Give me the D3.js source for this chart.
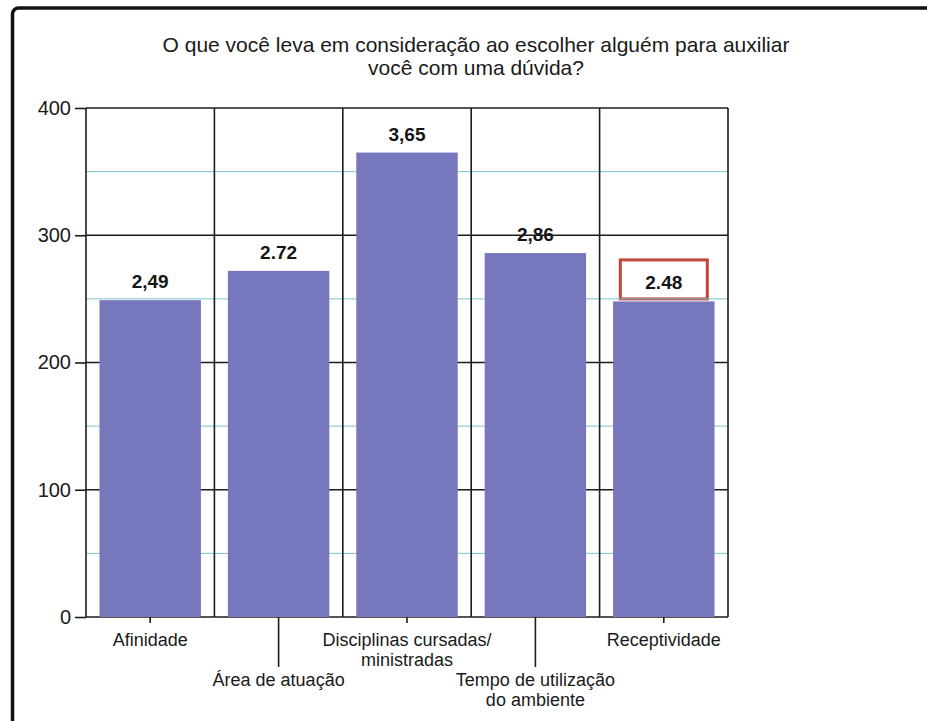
<!DOCTYPE html>
<html>
<head>
<meta charset="utf-8">
<script src="https://cdn.jsdelivr.net/npm/d3@7"></script>
<style>
  html, body { margin: 0; padding: 0; background: #ffffff; }
  svg { display: block; font-family: Arial, "Liberation Sans", Helvetica, sans-serif; }
</style>
</head>
<body>
<svg id="chart" width="927" height="721"></svg>
<script>
// Survey answers: average score per criterion (shown on a 0–400 axis, i.e. score × 100)
const categories = ["Afinidade", "Área de atuação", "Disciplinas cursadas/ministradas", "Tempo de utilização do ambiente", "Receptividade"];
const categoryLines = [["Afinidade"], ["Área de atuação"], ["Disciplinas cursadas/", "ministradas"], ["Tempo de utilização", "do ambiente"], ["Receptividade"]];
const scores = [2.49, 2.72, 3.65, 2.86, 2.48];
const scoreLabels = ["2,49", "2.72", "3,65", "2,86", "2.48"];
const highlighted = ["Receptividade"];
const yTicks = [0, 100, 200, 300, 400];
const yMinor = [50, 150, 250, 350];
const titleLines = ["O que você leva em consideração ao escolher alguém para auxiliar", "você com uma dúvida?"];

const svg = d3.select("#chart");
const W = 927, H = 721;
const plot = { left: 86, right: 728, top: 108, bottom: 617 };

const x = d3.scaleBand()
  .domain(categories)
  .range([plot.left, plot.right])
  .paddingInner(0.21)
  .paddingOuter(0.105);
const step = x.step();
const y = d3.scaleLinear().domain([0, 400]).range([plot.bottom, plot.top]);

// frame around the figure
svg.append("rect")
  .attr("x", 12.5).attr("y", 8)
  .attr("width", W + 20).attr("height", H + 20)
  .attr("rx", 6)
  .attr("fill", "#ffffff")
  .attr("stroke", "#111111")
  .attr("stroke-width", 3.5);

// title
svg.append("g").selectAll("text")
  .data(titleLines)
  .join("text")
  .attr("x", 476)
  .attr("y", (d, i) => 52 + i * 23)
  .attr("text-anchor", "middle")
  .attr("font-size", 21)
  .attr("fill", "#1a1a1a")
  .text(d => d);

const cats = categories.map((c, i) => ({ c, i, v: scores[i], label: scoreLabels[i], lines: categoryLines[i] }));

// value labels (grid lines are drawn over them)
const labelG = svg.append("g");
labelG.selectAll("rect.hl")
  .data(cats.filter(d => highlighted.includes(d.c)))
  .join("rect")
  .attr("class", "hl")
  .attr("x", d => x(d.c) + x.bandwidth() / 2 - 43.5)
  .attr("y", d => y(d.v * 100) - 41.5)
  .attr("width", 87)
  .attr("height", 39)
  .attr("fill", "#ffffff")
  .attr("stroke", "#c0453e")
  .attr("stroke-width", 3);
labelG.selectAll("text")
  .data(cats)
  .join("text")
  .attr("x", d => x(d.c) + x.bandwidth() / 2)
  .attr("y", d => y(d.v * 100) - 12)
  .attr("text-anchor", "middle")
  .attr("font-size", 19)
  .attr("font-weight", "bold")
  .attr("fill", "#151515")
  .text(d => d.label);

// minor horizontal grid lines
svg.append("g").selectAll("line")
  .data(yMinor)
  .join("line")
  .attr("x1", plot.left).attr("x2", plot.right)
  .attr("y1", d => y(d)).attr("y2", d => y(d))
  .attr("stroke", "#7fc1cc")
  .attr("stroke-width", 1);

// major horizontal grid lines
svg.append("g").selectAll("line")
  .data(yTicks)
  .join("line")
  .attr("x1", plot.left).attr("x2", plot.right)
  .attr("y1", d => y(d)).attr("y2", d => y(d))
  .attr("stroke", "#1c1c1c")
  .attr("stroke-width", 1.6);

// vertical cell borders
const borders = d3.range(categories.length + 1).map(i => plot.left + i * step);
svg.append("g").selectAll("line")
  .data(borders)
  .join("line")
  .attr("x1", d => d).attr("x2", d => d)
  .attr("y1", plot.top).attr("y2", plot.bottom)
  .attr("stroke", "#1c1c1c")
  .attr("stroke-width", 1.6);

// bars
svg.append("g").selectAll("rect")
  .data(cats)
  .join("rect")
  .attr("x", d => x(d.c))
  .attr("width", x.bandwidth())
  .attr("y", d => y(d.v * 100))
  .attr("height", d => y(0) - y(d.v * 100))
  .attr("fill", "#7677bd");

// y axis
const yAxis = svg.append("g")
  .attr("transform", `translate(${plot.left},0)`)
  .call(d3.axisLeft(y).tickValues(yTicks).tickSize(11).tickPadding(4).tickFormat(d3.format("d")));
yAxis.select(".domain").remove();
yAxis.selectAll(".tick line").attr("stroke", "#1c1c1c").attr("stroke-width", 1.6);
yAxis.selectAll(".tick text")
  .attr("font-size", 20)
  .attr("font-family", "Arial, 'Liberation Sans', sans-serif")
  .attr("fill", "#1a1a1a");

// x axis: staggered ticks and labels
const shortTick = 6, longTick = 50;
const xg = svg.append("g");
const xt = xg.selectAll("g")
  .data(cats)
  .join("g")
  .attr("transform", d => `translate(${x(d.c) + x.bandwidth() / 2},${plot.bottom})`);
xt.append("line")
  .attr("y1", 0)
  .attr("y2", d => d.i % 2 ? longTick : shortTick)
  .attr("stroke", "#1c1c1c")
  .attr("stroke-width", 1.6);
xt.append("text")
  .attr("text-anchor", "middle")
  .attr("font-size", 18)
  .attr("fill", "#1a1a1a")
  .attr("y", d => d.i % 2 ? 69 : 29)
  .selectAll("tspan")
  .data(d => d.lines)
  .join("tspan")
  .attr("x", 0)
  .attr("dy", (d, j) => j === 0 ? 0 : 19.5)
  .text(d => d);
</script>
</body>
</html>
